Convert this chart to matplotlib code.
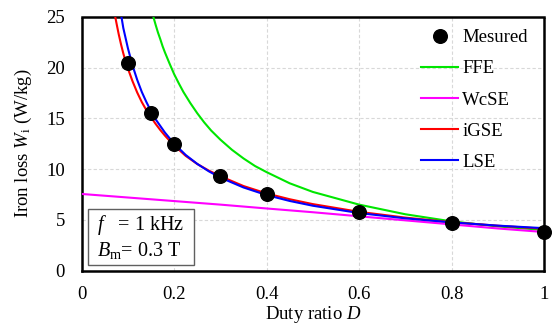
import matplotlib
matplotlib.use("Agg")
import matplotlib.pyplot as plt
from matplotlib.patches import Rectangle

plt.rcParams['font.family'] = ['Liberation Serif', 'DejaVu Serif']
plt.rcParams['mathtext.fontset'] = 'custom'
plt.rcParams['mathtext.rm'] = 'Liberation Serif'
plt.rcParams['mathtext.it'] = 'Liberation Serif:italic'

# Measured points
meas_D = [0.1, 0.15, 0.2, 0.3, 0.4, 0.6, 0.8, 1.0]
meas_W = [20.5, 15.55, 12.5, 9.3, 7.55, 5.75, 4.7, 3.85]

# FFE (green)
ffe_D = [0.155, 0.16, 0.165, 0.17, 0.175, 0.18, 0.19, 0.2, 0.21, 0.22, 0.235, 0.25, 0.265, 0.28, 0.3,
         0.325, 0.35, 0.375, 0.4, 0.45, 0.5, 0.6, 0.7, 0.8, 0.9, 1.0]
ffe_W = [25.0, 24.2, 23.45, 22.8, 22.1, 21.5, 20.4, 19.35, 18.45, 17.6, 16.5, 15.5, 14.6, 13.8, 12.9,
         11.9, 11.05, 10.3, 9.7, 8.6, 7.75, 6.5, 5.55, 4.85, 4.35, 4.0]

# WcSE (magenta)
wcse_D = [0.0, 0.1, 0.2, 0.3, 0.4, 0.5, 0.6, 0.7, 0.8, 0.9, 1.0]
wcse_W = [7.55, 7.2, 6.85, 6.5, 6.12, 5.75, 5.35, 4.95, 4.55, 4.15, 3.8]

# iGSE (red)
igse_D = [0.073, 0.076, 0.08, 0.085, 0.09, 0.095, 0.1, 0.11, 0.12, 0.13, 0.14, 0.15, 0.16, 0.17, 0.18,
          0.19, 0.2, 0.225, 0.25, 0.275, 0.3, 0.35, 0.4, 0.45, 0.5, 0.6, 0.7, 0.8, 0.9, 1.0]
igse_W = [24.9, 24.2, 23.3, 22.3, 21.4, 20.6, 19.9, 18.65, 17.55, 16.6, 15.8, 15.1, 14.45, 13.85, 13.3,
          12.8, 12.33, 11.3, 10.5, 9.85, 9.3, 8.33, 7.6, 7.03, 6.55, 5.79, 5.22, 4.77, 4.42, 4.12]

# LSE (blue)
lse_D = [0.086, 0.09, 0.1, 0.11, 0.12, 0.13, 0.14, 0.15, 0.16, 0.18, 0.2, 0.225, 0.25, 0.275, 0.3,
         0.35, 0.4, 0.45, 0.5, 0.6, 0.7, 0.8, 0.9, 1.0]
lse_W = [25.0, 23.9, 21.9, 20.2, 18.8, 17.6, 16.6, 15.7, 14.9, 13.6, 12.5, 11.39, 10.51, 9.78, 9.16,
         8.19, 7.44, 6.86, 6.39, 5.67, 5.15, 4.75, 4.43, 4.18]

x_ticks = [0, 0.2, 0.4, 0.6, 0.8, 1.0]
x_ticklabels = ['0', '0.2', '0.4', '0.6', '0.8', '1']
y_ticks = [0, 5, 10, 15, 20, 25]

FS = 13.5

fig = plt.figure(figsize=(5.55, 3.3), dpi=100)
ax = fig.add_axes([0.1472, 0.18, 0.833, 0.769])

ax.grid(True, color='#d8d8d8', linestyle=(0, (3, 2)), linewidth=0.8)
ax.set_axisbelow(True)

h_ffe, = ax.plot(ffe_D, ffe_W, color='#00e600', lw=1.5, label='FFE', zorder=3)
h_wc, = ax.plot(wcse_D, wcse_W, color='#ff00ff', lw=1.5, label='WcSE', zorder=3)
h_ig, = ax.plot(igse_D, igse_W, color='#ff0000', lw=1.5, label='iGSE', zorder=3)
h_ls, = ax.plot(lse_D, lse_W, color='#0000ff', lw=1.5, label='LSE', zorder=3)
h_m, = ax.plot(meas_D, meas_W, 'o', color='black', ms=9.8, label='Mesured', zorder=5, clip_on=False)

ax.set_xlim(0, 1)
ax.set_ylim(0, 25)
ax.set_xticks(x_ticks)
ax.set_xticklabels(x_ticklabels)
ax.set_yticks(y_ticks)
ax.tick_params(axis='x', length=0, labelsize=FS, pad=11)
ax.tick_params(axis='y', length=0, labelsize=FS, pad=12)

for sp in ax.spines.values():
    sp.set_linestyle((0, (1, 1)))
    sp.set_linewidth(1.8)
    sp.set_color('black')

ax.set_xlabel('Duty ratio $\\it{D}$', fontsize=FS)
ax.xaxis.set_label_coords(0.5, -0.13)
ax.set_ylabel('Iron loss $W_{\\rm i}$ (W/kg)', fontsize=FS, labelpad=8.5)

leg = ax.legend(handles=[h_m, h_ffe, h_wc, h_ig, h_ls], loc='upper right',
                bbox_to_anchor=(0.991, 1.0),
                frameon=False, fontsize=FS, handlelength=2.0, handletextpad=0.2,
                labelspacing=0.75, borderaxespad=0.25)

# condition box
ax.add_patch(Rectangle((0.0136, 0.022), 0.229, 0.2205, transform=ax.transAxes,
                       facecolor='white', edgecolor='#606060', linewidth=1.0, zorder=6))
ax.text(0.033, 0.178, '$f$   = 1 kHz', transform=ax.transAxes, fontsize=14.5,
        va='center', ha='left', zorder=7)
ax.text(0.033, 0.08, '$B_{\\rm m}$= 0.3 T', transform=ax.transAxes, fontsize=14.5,
        va='center', ha='left', zorder=7)

fig.savefig('out.png', dpi=100)
